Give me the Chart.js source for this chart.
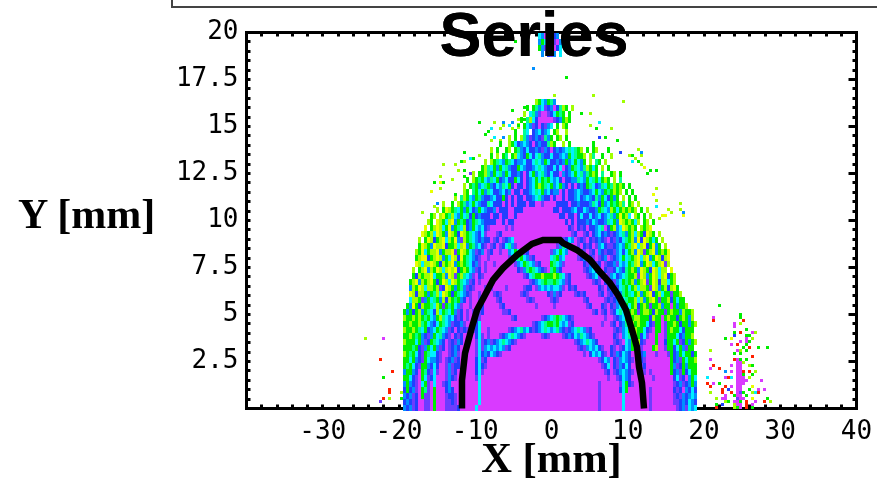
<!DOCTYPE html>
<html>
<head>
<meta charset="utf-8">
<title>Series</title>
<script src="https://cdn.jsdelivr.net/npm/chart.js@4"></script>
<style>
  html, body { margin: 0; padding: 0; background: #fff; overflow: hidden; }
  #wrap { position: relative; width: 877px; height: 479px; }
  #legendBox { position: absolute; left: 171px; top: -6px; width: 720px; height: 10px; border: 2px solid #444; }
  #yName { position: absolute; left: 18px; top: 190px; font: bold 42px "Liberation Serif", serif; color: #000; white-space: nowrap; }
</style>
</head>
<body>
<div id="wrap">
  <canvas id="myChart" width="877" height="479"></canvas>
  <div id="legendBox"></div>
  <div id="yName">Y [mm]</div>
</div>
<script>
var titleText = "Series"
var xName = "X [mm]"
var xTickLabels = [-30, -20, -10, 0, 10, 20, 30, 40]
var yTickLabels = [2.5, 5, 7.5, 10, 12.5, 15, 17.5, 20]

var levelKeys = ["M", "I", "B", "A", "C", "S", "G", "L", "Y", "R"]
var levelColors = ["#d93aff", "#6c3cff", "#2040ff", "#0090ff", "#00f0ff", "#00ff90", "#00ee00", "#a0ff00", "#e8ff00", "#ff2000"]

// top row first: left of dome | dome, 4 blocks of 10 | right of dome
var domeRows = [
  "|.......... ......CAMI MBA....... ..........|",
  "|.......... ......AGCB MIMA...... ..........|",
  "|.......... ......GAIM IMBC...... ..........|",
  "|.......... .......A.B IA.C...... ..........|",
  "||", "||", "||", "||", "||", "||", "||",
  "|.......... .....LGCAG SA........ ..........|",
  "|.......... ..G.GSACIB AMBSLG.L.. ..........|",
  "|.......... .L.CSAIMMI BCGSG.G... ..........|",
  "|.......... G.SLCBMMMM MIBAGLG... ..........|",
  "|.........L .GCAIBMBIA C.G.LG.... ..........|",
  "|........G. .SC.BACBAC .GL..L.... ..........|",
  "|......L.G. LSAIBABISA G.GL.G.... ..........|",
  "|...G..LGCB ACABMBABBS LG..L.G... ....G.....|",
  "|L.G..GL.GS ABCBBABIAB MBABACSCSG L.G.GL...G|",
  "|G.L.GS.GLC ABGCBCSABB CBBACAGCSG GL.LS..G..|L",
  "L.|LGSCAGSCBA ACBBCSCAGC BBABAGACGC AG.L.SG.L.|",
  "GLS|CGAGCSABBG CABBACSCAB BCBCMBAGSC ASLGCG.L.G|",
  "L.GGLS|AGCSAGCBBA BMBCGACSAB CBBMABACGC SASGLG.S.|GL.G",
  "G.LGSGCA|SCGBACBBGC BMBACGCGSG CACBMBBAAS CAGCSGCGLG|.L.S.",
  "L.GSGACSG|ABCASCGBMB BMBACGLGSC GACGABMBMB ABGSCBASCG|SLGLG.G",
  "LG.SGCGAS|CBBACBAMBB MBBACSCGAC BAAMBMBBAC ABBACGCAGS|GLGL.G.G",
  "L.SLGCAGSABB|ACBBGBMBMB BMBBACSABB MBMMBMBBAC BACABSAGCB|GAG.L.G.G",
  "L..G.LGSACGCABBS|CBBBMBMBMB BBMBBMMIMM MMBBBBMBBA BBBASCBGAC|GSGLS.GL.L",
  "L.GYLGSCGAGCBAGCAB|BAMBBBMMBB BMMMMMMMMM MBBMBBBACB BCABBAGSCA|LGCGLGLGL.G.L",
  "GL.LYGSLCAGCSBGBABBB|MBBMBBMMBM MMMMMMMMMM MMMBBMBBMB CBBCBACBAC|SAGYGLC.LG.G.L",
  "LG.YLGCLYAGSGBAGSCABB|BBMMBMBBMM MMMMMMMMMM MMMMMBMBMB BBABCABBAS|CGAYLGLGCL.GL.G",
  "Y.GLYLCGYAGSCLBAGCACBI|MMMMMIMIMM MMMMMMMMMM MMMMMMBIMB IBMBBACSMB|GLACYLGLG.LGLY..",
  "YLGLCYLGAYLGBYLGSCABCIM|MMIBMMMMMM MMMMMMMMMM MMMMMMMIBM MIBMBACBAB|IBACSAGLCLGBYLG.L",
  "L.GYLBGLYCLGYAILGSCABABB|MIBMIBACMM MMMMMMMMMM MMMMIBCAMI BIMBIBABIM|BIABCSGLAYBYLGCG.L",
  "GYLGAYLLYBGGLCLYAGSACBIM|IBMIBCSAIM MMMMMMMMMM MMIASCBMMI MBIBMIACBI|IBACAGSLYCLYBGYAG.L",
  "LGYCGLLYAGLLYIGYLGCAIBAMI|BMMIMMACGC AIBMMMMMMM IACGCAMMMM BIMIBMABIB|BIACBCGLAYLIGLYAGLGY",
  "GLYYBGLYLAGCYLBYGSCABIMMI|MMMMMMIACS GCAIBMMMMM CSGACMMMMI BACBIMIBAM|IBACGCSGLYCLYAGYLBLY",
  "YLCLLYLGBLGLYAGLGSCBAIMIM|MIMMMMMMIA CGSCAIBMMM GSCAIMMMMM MBIACIBMIB|BAICACGSLYAGYLCGLYIL.",
  "L.GLYALGYLCLYLYBGLGCAIBMIM|MMMMMMMMMB IASGSCABIM SGABMMMMMM MIBACBIMBI|IBCABSGLGAYLGBYLCLL.Y",
  "GBLGLLYCGGLAYLIGLSCAIMBIMM|MMMMMMMMMM MIBCSGGLGG GLGSCIBMMM MMIBACIBMI|ACBACSGGLIYLAGYLCLYBGL.",
  "GLYALGLYGBGYLCYLGSCAIBMIMMM|MMMMMMMMMM MMMIBACSGS SGSCAIBMMM MMMMIBIMBI|BIACGSGLAGLYIGYLBLLCGL.",
  "ALGYLCLLGLIBYLGAGSAIBIMMMIB|IMMMMIMMMM MIBBMIACAC ACCAIMBIBM MMMMMMBIMB|IABCSGCGLCLLGIYLAGLBLYG",
  "YLBLLGAGSLCYLGBGSCABIMMIMBM|MIBIMMMMMM IBIMMMMMMB IAIBMMMMIB IBMMMMIBMI|BICASGSCGLAGLYBGLCGGIGGL",
  "CLLGIAGCSGALBLGSGABMIMMIBMM|MMIBMMMMMM MMIBIMMMMM IBIMMMMMMM MIBMMMMMIB|IBABCSGGLCLAGLYGIGGLBGCGG",
  "GAYGBLGGSCLGIGSGCAIMMIMMIBMM|MMMIBMMMMM MMMMMIMMMM MIMMMMMMMM MMIBMMMBIM|BIACSGCGLBGLGIGGLAGGMGAGGL",
  "GAGBGLAGSCBLCGSCGAIBMIMIMIBMM|MMMMIIBMMM MMMMMMMMMM MMMMMMMMMM MMMMIBMIBM|IBCSCGGLGIGLLGBLGGIGLGGALGGL",
  "LGGLGLGSGCAGLSCACBIBMIMMBIMMM|MMMMMMMIBM MMMMMMMIBA CSGSCABIMM MMMMMMMMIM|MIBACGSGLLGGGBLGGMGLGGBGLGAL",
  "GGLGGLSGCABCGSCAIBBAIMMMBCMMM|MMMMMMMMMM MMMMIBACSG GSGCACIBMM MMMMMMMIMM|IBMBASGLGLGGCBIGGMIGGLGBGGAGL",
  "LGGLGSCGBACGSCAIBMBIBIMIBCMMI|MMMMMMIBAC SACBIBACSC ACSABIBACS CAIBMMMMMM|MIBIACGGLGGCBIMGGMIGLGGCBGGG.",
  "GGLGSGABIAGCSABIMBIBMMMMBCIMI|MMMIBACSCA BIMMMMMIBI MMMMIBABCA SCABIMMMMM|MBIMACSGLGBCIMMGMMIGGGCBAGGL.",
  "LGGGCGAIBGSCABMIBIABMMMMICIBA|IBACSCABIM MMMMMMMMMM MMMMMMMMIB ACSCABMMMM|MIBIMCAGGLBIMMMGMMBGGCGIBGAGL",
  "GGGSGBIAGCGAIBMIBABMMMMMICIAC|ACACAIBMMM MMMMMMMMMM MMMMMMMMMI BIACACBIMM|BIMIBCAGGBIMMMGLMMIGGBCGAIGG.",
  "LGSGCBIGSCCBIMMIBAIMMMMMICBAB|CABIMMMMMM MMMMMMMMMM MMMMMMMMMM MIMBCACBIM|BIABCABMMMBAMMMIMMMIGBAGCGGBG",
  "GGCGABIGCAABIMIBAIBMMMMMBCIBM|MMMMMMMMMM MMMMMMMMMM MMMMMMMMMM MMMMMMIBCA|MBIACABIMMBIMMMMMMMMGBAIGCGGL",
  "GSGCBIGGABCBMMIAIBBMMMMMBCBIM|MMMMMMMMMM MMMMMMMMMM MMMMMMMMMM MMMMMMMIBC|MBIABCBMMMIBMMMMMMMMGAIBGAGGG",
  "AGGABMGSBICIMMIAIBMMMMMMBCIMM|MMMMMMMMMM MMMMMMMMMM MMMMMMMMMM MMMMMMMMIB|MIBACABIMMMIMIMMMMMMGBAIGBCGG",
  "GGCBIMGCIBCMMMIABIMMMMMMICMMM|MMMMMMMMMM MMMMMMMMMM MMMMMMMMMM MMMMMMMMMI|MMIBCABMMMMMMMIMMMMMMBCIBMAGC",
  "AGABIMCGIMCMMIBAMMMMMMMMMCMMM|MMMMMMMMMM MMMMMMMMMM MMMMMMMMMM MMMMMMIMMM|MMMICGBIMMMMMMMMMMMMMIBAIBAGA",
  "BGBAIMGSIMGMMMBABMMMMMMMMCMMM|MMMMMMMMMM MMMMMMMMMM MMMMMMMMMM MMMMMMIMMM|MMMBCGMMMMMMMIMMMMMMMBIBMABCB",
  "ABAIBMGIIMGMMMIBBIMMMMMMMCMMM|MMMMMMMMMM MMMMMMMMMM MMMMMMMMMM MMMMMMIMMM|MMMMCMMMMMMMMIMMMMMMMIBIABACA",
  "BABIBMMIIMGMMMIIBIMMMMMMMCMMM|MMMMMMMMMM MMMMMMMMMM MMMMMMMMMM MMMMMMIMMM|MMMMCMMMMMMMMIMMMMMMMIIBABCAB",
  "ABAIBMMIIMGMMMIIIIBMMMMMCMMMM|MMMMMMMMMM MMMMMMMMMM MMMMMMMMMM MMMMMMIMMM|MMMMCMMMMMMMMIMMMMMMMMIBAICAC"
]

// single stray cells, as fine bin x, fine bin y, level
var strayLeft = [
  [-56,23,"M"],[-62,23,"L"],[-57,16,"R"],[-53,12,"R"],[-56,10,"G"],[-54,5,"R"],[-54,6,"R"],[-56,3,"R"],
  [-54,3,"L"],[-57,2,"I"],[-50,5,"L"],[-50,3,"G"],
  [-6,113,"A"],[-12,122,"G"],[1,104,"L"],[-13,99,"G"],[-9,100,"G"],[-11,96,"L"],[-9,96,"G"],[-24,95,"G"],
  [-19,95,"L"],[-16,95,"A"],[-13,95,"A"],[-14,94,"C"],[-11,94,"G"],[-16,94,"L"],[-20,93,"C"],[-17,93,"L"],
  [-13,93,"L"],[-21,92,"G"],[-22,91,"G"],[-12,92,"L"],[-19,90,"C"],[-16,90,"A"],[-20,89,"L"],[-17,89,"L"],
  [-29,85,"G"],[-24,84,"L"],[-27,83,"C"],[-26,83,"G"],[-36,81,"L"],[-32,81,"L"],[-30,82,"G"],[-29,82,"L"],
  [-31,79,"L"],[-29,79,"G"],[-27,78,"I"],[-37,77,"L"],[-29,77,"G"],[-33,76,"L"],[-39,75,"G"],[-37,75,"Y"],
  [-36,75,"G"],[-37,73,"L"],[-40,72,"Y"],[-32,71,"G"],[-38,68,"A"],[-43,65,"L"],[-39,67,"L"]
]
var strayTop = [
  [5,110,"G"],[1,104,"L"],[14,104,"L"],[24,102,"L"],[10,98,"G"],[13,98,"L"],[16,95,"C"],[13,94,"L"],
  [15,93,"G"],[20,93,"L"],[22,89,"G"],[18,90,"G"],[16,90,"B"],[29,86,"L"],[30,85,"A"],[23,85,"B"],
  [26,84,"L"],[27,84,"G"],[30,84,"L"],[28,83,"L"],[27,82,"C"],[29,82,"G"],[30,81,"L"],[31,80,"Y"],
  [33,79,"G"],[35,79,"G"],[32,78,"G"],[35,73,"L"],[34,71,"Y"],[35,69,"L"],[35,67,"C"],[43,68,"L"],
  [39,66,"L"],[43,66,"L"],[44,65,"A"],[40,65,"L"],[44,64,"Y"],[37,64,"Y"],[38,64,"Y"],[36,63,"L"]
]
var strayPlume = [
  [56,34,"G"],[54,30,"M"],[54,29,"R"],[63,31,"G"],[63,30,"G"],[64,29,"R"],[61,28,"M"],[63,28,"L"],
  [61,27,"M"],[65,26,"G"],[61,25,"G"],[63,25,"R"],[61,24,"B"],[67,25,"M"],[68,25,"L"],[65,24,"G"],
  [66,24,"G"],[58,23,"G"],[60,23,"Y"],[65,23,"M"],[67,23,"L"],[63,22,"M"],[65,22,"M"],[66,22,"G"],
  [60,21,"M"],[62,21,"R"],[65,21,"G"],[66,20,"R"],[69,20,"G"],[72,20,"G"],[53,19,"L"],[62,19,"M"],
  [63,19,"L"],[64,20,"G"],[65,19,"G"],[61,18,"G"],[63,18,"G"],[67,17,"R"],[53,16,"M"],[61,16,"R"],
  [62,16,"M"],[63,16,"G"],[65,16,"G"],[54,14,"R"],[60,14,"M"],[64,15,"L"],[66,14,"L"],[67,14,"G"],
  [53,13,"M"],[56,13,"R"],[58,12,"A"],[60,12,"M"],[64,12,"R"],[66,12,"R"],[68,12,"L"],[67,11,"G"],
  [52,10,"C"],[58,10,"M"],[59,10,"R"],[60,10,"C"],[66,10,"L"],[70,9,"M"],[52,8,"R"],[54,8,"M"],
  [56,8,"G"],[53,7,"R"],[58,7,"R"],[60,7,"M"],[67,7,"Y"],[57,6,"R"],[59,6,"B"],[66,6,"G"],
  [69,6,"M"],[71,6,"M"],[53,5,"L"],[57,5,"R"],[60,5,"R"],[64,5,"G"],[67,5,"L"],[68,5,"C"],
  [69,5,"R"],[58,4,"M"],[61,4,"G"],[65,4,"G"],[55,3,"L"],[57,3,"M"],[58,3,"M"],[64,3,"M"],
  [67,3,"Y"],[72,3,"G"],[58,2,"L"],[59,2,"G"],[61,2,"M"],[65,2,"R"],[68,2,"M"],[71,2,"R"],
  [73,2,"L"],[55,1,"G"],[57,1,"B"],[61,1,"L"],[65,1,"R"],[67,1,"M"],[55,0,"R"],[61,0,"L"],
  [65,0,"R"],[67,0,"G"]
]
var strayTrunk = [
  [62,15,"M"],[63,15,"M"],[62,14,"M"],[63,14,"M"],[62,13,"M"],[63,13,"M"],[62,12,"M"],[63,12,"M"],
  [62,11,"M"],[63,11,"M"],[64,11,"G"],[62,10,"M"],[63,10,"M"],[64,10,"M"],[62,9,"M"],[63,9,"M"],
  [64,9,"M"],[65,9,"M"],[62,8,"M"],[63,8,"M"],[64,8,"M"],[62,7,"M"],[63,7,"M"],[62,6,"M"],
  [63,6,"M"],[62,5,"M"],[63,5,"I"],[62,4,"M"],[63,4,"M"],[62,3,"I"],[63,3,"M"],[62,2,"M"],
  [63,2,"G"],[62,1,"M"],[63,1,"M"],[62,0,"G"],[63,0,"M"]
]

var curveX = [-11.74, -11.74, -11.34, -10.43, -9.77, -8.72, -7.67, -6.36, -4.52, -2.56, -1.11, 1.11, 1.51, 3.34, 5.05, 6.36, 7.67, 8.72, 9.77, 10.56, 11.21, 11.48, 11.87, 12.13]
var curveY = [0, 1.5, 2.95, 4.33, 5.24, 6.04, 6.84, 7.47, 8.16, 8.75, 8.96, 8.96, 8.8, 8.43, 7.9, 7.26, 6.68, 6.04, 5.24, 4.18, 3.27, 2.2, 1.36, 0]

// plot scale: 7.625 px per mm across, 18.8 px per mm up
var xBin = 3 / 7.625
var yBinFine = 3 / 18.8
var yBinRow = 6 / 18.8

function stamp(color, w, h) {
  var c = document.createElement("canvas")
  c.width = w
  c.height = h
  var g = c.getContext("2d")
  g.fillStyle = color
  g.fillRect(0, 0, w, h)
  return c
}

function buildDatasets() {
  var rowStamp = {}, fineStamp = {}, points = {}
  levelKeys.forEach(function (k, i) {
    rowStamp[k] = stamp(levelColors[i], 3, 6)
    fineStamp[k] = stamp(levelColors[i], 3, 3)
    points[k] = []
  })

  domeRows.forEach(function (text, r) {
    var parts = text.replace(/ /g, "").split("|")
    var y = 20 - (r * yBinRow + yBinRow / 2)
    function put(str, startCol) {
      for (var i = 0; i < str.length; i++) {
        if (points[str[i]]) points[str[i]].push({ x: (startCol + i - 50) * xBin, y: y, s: rowStamp[str[i]] })
      }
    }
    put(parts[0], 30 - parts[0].length)
    put(parts[1], 30)
    put(parts[2] || "", 70)
  })

  strayTrunk.concat(strayLeft, strayTop, strayPlume).forEach(function (p) {
    points[p[2]].push({ x: p[0] * xBin, y: p[1] * yBinFine + yBinFine / 2, s: fineStamp[p[2]] })
  })

  var sets = [{
    label: "curve",
    data: curveX.map(function (x, i) { return { x: x, y: curveY[i] } }),
    showLine: true,
    borderColor: "#000",
    borderWidth: 6.5,
    pointRadius: 0,
    clip: false
  }]
  levelKeys.forEach(function (k) {
    sets.push({
      label: k,
      data: points[k],
      pointRadius: 3,
      pointStyle: function (ctx) { return ctx.raw ? ctx.raw.s : "rect" },
      clip: false
    })
  })
  return sets
}

function inwardAxis(position, min, max, step, length, labels) {
  return {
    type: "linear",
    position: position,
    min: min,
    max: max,
    border: { display: true, color: "#000", width: 3 },
    grid: { drawOnChartArea: false, drawTicks: true, tickLength: length, tickWidth: 3, tickColor: "#000" },
    ticks: {
      stepSize: step,
      autoSkip: false,
      maxRotation: 0,
      display: !!labels,
      padding: 12,
      color: "#000",
      font: { family: "DejaVu Sans Mono", size: 26 },
      callback: function (v) { return labels && labels.indexOf(v) >= 0 ? String(v) : "" }
    },
    afterFit: function (s) {
      if (position == "left") s.width = 246.5
      if (position == "right") s.width = length < -4 ? 0 : 20.5
      if (position == "top") s.height = 32.5
      if (position == "bottom") s.height = 70.5
      s.paddingLeft = s.paddingRight = s.paddingTop = s.paddingBottom = 0
    }
  }
}

var scales = {
  x: inwardAxis("bottom", -40, 40, 2, -4, xTickLabels),
  y: inwardAxis("left", 0, 20, 0.5, -4, yTickLabels),
  xTop: inwardAxis("top", -40, 40, 2, -4, null),
  yRight: inwardAxis("right", 0, 20, 0.5, -4, null),
  yMajor: inwardAxis("right", 0, 20, 2.5, -8, null)
}
scales.yMajor.border = { display: false }
scales.yMajor.weight = -1
scales.x.title = {
  display: true,
  text: xName,
  color: "#000",
  padding: { top: 0, bottom: -8 },
  font: { family: "Liberation Serif", weight: "bold", size: 42.5 }
}

var titleOnTop = {
  id: "titleOnTop",
  afterLayout: function (c) {
    // title sits left of the plot centre
    c.titleBlock.left = 212
    c.titleBlock.right = 856
  },
  afterDatasetsDraw: function (c) {
    c.titleBlock.draw()
  },
  beforeDatasetsDraw: function (c) {
    c.ctx.imageSmoothingEnabled = false
  }
}

var chart = new Chart(document.getElementById("myChart").getContext("2d"), {
  type: "scatter",
  data: { datasets: buildDatasets() },
  plugins: [titleOnTop],
  options: {
    responsive: false,
    animation: false,
    events: [],
    layout: { padding: 0 },
    scales: scales,
    plugins: {
      legend: { display: false },
      tooltip: { enabled: false },
      title: {
        display: true,
        text: titleText,
        color: "#000",
        fullSize: false,
        font: { family: "Liberation Sans", weight: "bold", size: 63, lineHeight: 1 },
        padding: { top: 7, bottom: -70 }
      }
    }
  }
})
</script>
</body>
</html>
